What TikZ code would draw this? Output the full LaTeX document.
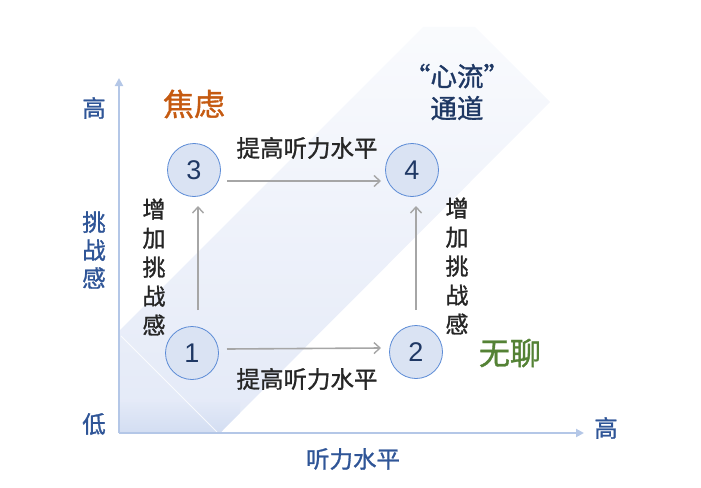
\documentclass[tikz,border=0pt]{standalone}
\usepackage{fontspec}
\setmainfont{Liberation Sans}
\newfontfamily\cjk{Noto Sans CJK SC}[FakeBold=1.2]
\usetikzlibrary{arrows.meta}
\definecolor{bandc}{HTML}{E3E9F7}
\definecolor{bandlow}{HTML}{D2DDF2}
\definecolor{circfill}{HTML}{DAE3F3}
\definecolor{circline}{HTML}{5B8BD6}
\definecolor{numc}{HTML}{1F3864}
\definecolor{txtc}{HTML}{262626}
\definecolor{arrc}{HTML}{A6A6A6}
\definecolor{axisc}{HTML}{B4C7E7}
\definecolor{axlab}{HTML}{2F5597}
\definecolor{orangec}{HTML}{C55A11}
\definecolor{greenc}{HTML}{548235}
\tikzset{
  stage/.style={circle,draw=circline,fill=circfill,line width=0.8pt,minimum size=53pt,inner sep=0pt,font=\fontsize{27}{27}\selectfont,text=numc},
  move/.style={draw=arrc,line width=1.6pt,-{Straight Barb[length=6pt,width=11pt,line width=1.4pt]}},
  axisline/.style={draw=axisc,line width=2pt,-{Triangle[length=8pt,width=8pt]}},
  lab/.style={font=\cjk\fontsize{23.5}{23.5}\selectfont,text=txtc,inner sep=0pt},
  vlab/.style={font=\cjk\fontsize{23}{29}\selectfont,text=txtc,align=center,inner sep=0pt},
  axl/.style={font=\cjk\fontsize{23.5}{28}\selectfont,text=axlab,align=center,inner sep=0pt},
}
\begin{document}
\begin{tikzpicture}[x=1pt,y=-1pt]
\useasboundingbox (0,0) rectangle (701,487);
% diagonal band
\shade[top color=bandc!20!white, bottom color=bandc] (120,330) -- (423,27) -- (475,27) -- (550,102) -- (220,433) -- (120,433) -- cycle;
\begin{scope}
\clip (120,330) -- (423,27) -- (475,27) -- (550,102) -- (220,433) -- (120,433) -- cycle;
\shade[top color=bandc, bottom color=bandlow] (118,402) rectangle (240,434);
\end{scope}
\draw[white,line width=1pt,opacity=0.8] (121,336) -- (217,432);
% axes
\coordinate (o) at (119,433);
\coordinate (ytop) at (119,78);
\coordinate (xend) at (584,433);
\draw[axisline] (o) -- (ytop);
\draw[axisline] (o) -- (xend);
% axis labels
\node[axl] (yhi) at (94,108) {高};
\node[axl] (ylab) at (94,250) {挑\\战\\感};
\node[axl] (ylo) at (94,424) {低};
\node[axl] (xhi) at (606,428) {高};
\node[axl] (xlab) at (353,459) {听力水平};
% stages
\node[stage] (s3) at (194,170) {3};
\node[stage] (s4) at (412,170) {4};
\node[stage] (s1) at (192,353) {1};
\node[stage] (s2) at (416,352) {2};
% arrows
\coordinate (a34s) at (227,181);
\coordinate (a34e) at (381,181);
\coordinate (a12s) at (227,349);
\coordinate (a12e) at (381,348);
\coordinate (a13s) at (198,310);
\coordinate (a13e) at (198,206);
\coordinate (a24s) at (416,310);
\coordinate (a24e) at (416,206);
\draw[move] (a34s) -- (a34e);
\draw[move] (a12s) -- (a12e);
\draw[move] (a13s) -- (a13e);
\draw[move] (a24s) -- (a24e);
% labels
\node[lab] (t1) at (307,148) {提高听力水平};
\node[lab] (t2) at (307,379) {提高听力水平};
\node[vlab] (v1) at (154,267) {增\\加\\挑\\战\\感};
\node[vlab] (v2) at (457,266) {增\\加\\挑\\战\\感};
\node[font=\cjk\fontsize{31}{31}\selectfont,text=orangec,inner sep=0pt] (jl) at (194,104) {焦虑};
\node[font=\cjk\fontsize{31}{31}\selectfont,text=greenc,inner sep=0pt] (wl) at (510,353) {无聊};
\node[font=\cjk\fontsize{26.5}{32}\selectfont,text=numc,align=center,inner sep=0pt] (xl) at (457,92) {“心流”\\通道};
\end{tikzpicture}
\end{document}
